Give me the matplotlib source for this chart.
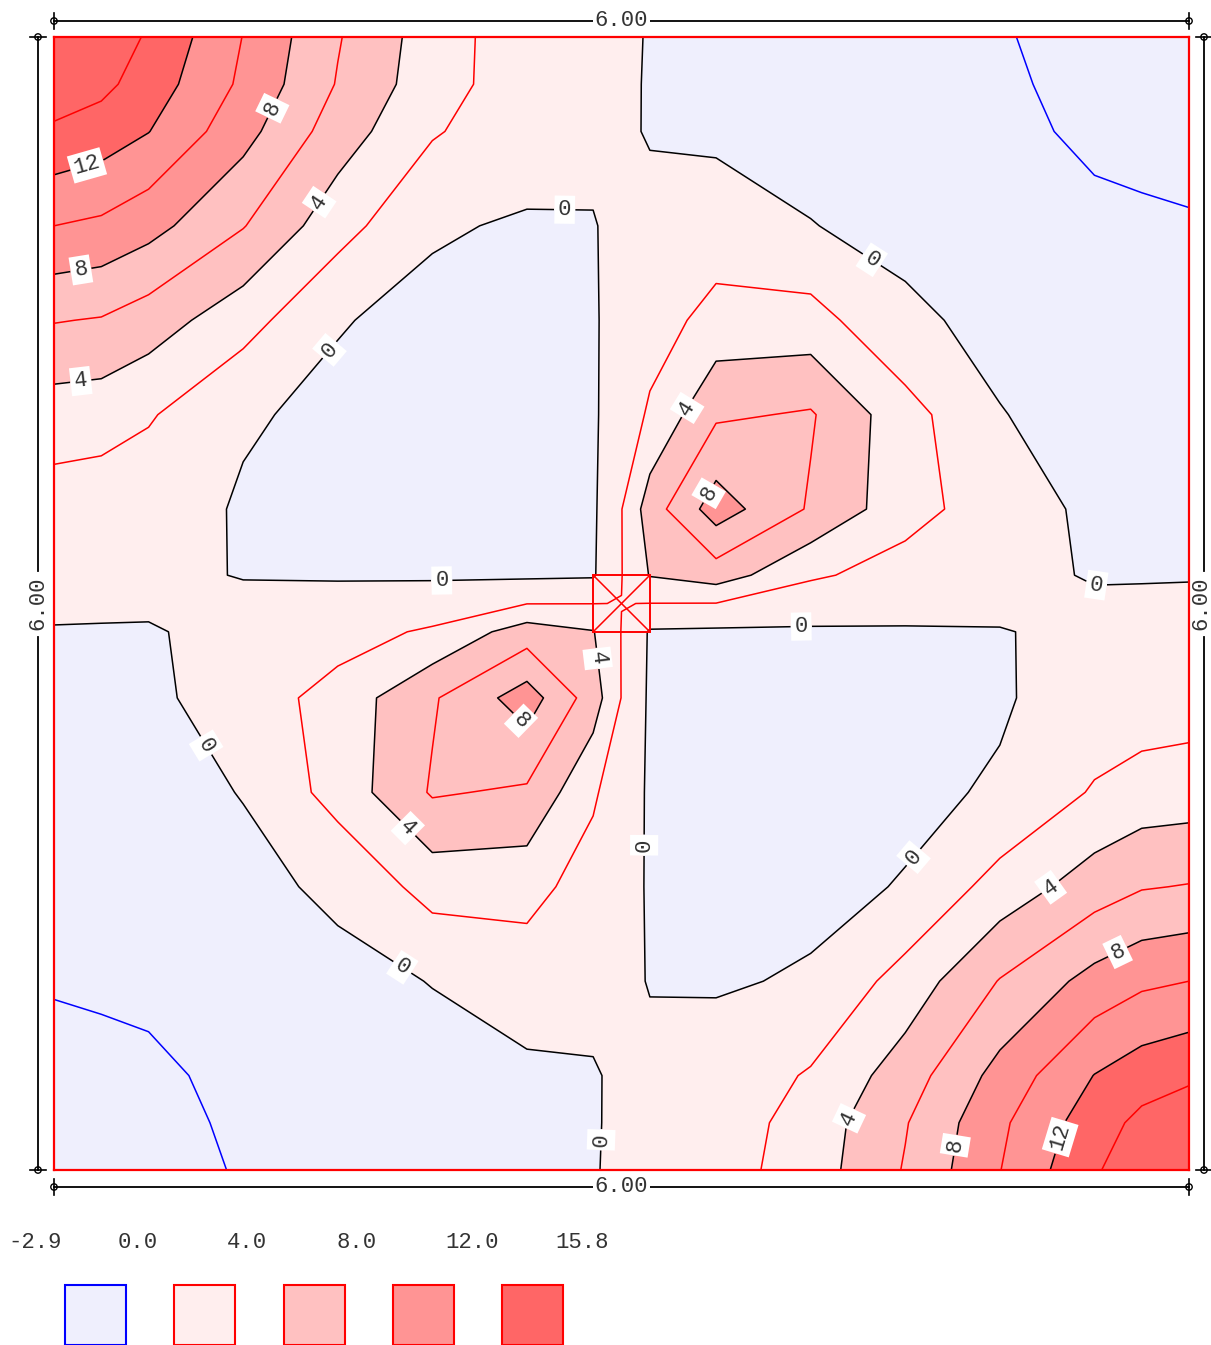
import numpy as np
import matplotlib
matplotlib.use("Agg")
import matplotlib.pyplot as plt
from matplotlib.patches import Rectangle, Circle

plt.rcParams["font.family"] = ["Liberation Mono", "DejaVu Sans Mono"]

# ---------------------------------------------------------------- slab data
SLAB_W = 6.0          # slab width  (m)
SLAB_H = 6.0          # slab height (m)
COL_SIZE = 0.30       # central column (m)

# mesh lines (m); rows are listed from the top edge down
x_nodes = [0.0, 0.25, 0.5, 1.0, 1.5, 2.0, 2.5, 2.85, 3.0, 3.15, 3.5, 4.0, 4.5, 5.0, 5.5, 5.75, 6.0]
y_nodes = [6.0, 5.75, 5.5, 5.0, 4.5, 4.0, 3.5, 3.15, 3.0, 2.85, 2.5, 2.0, 1.5, 1.0, 0.5, 0.25, 0.0]

# bending moment at the mesh nodes, one list per mesh row (top -> bottom)
m_r00 = [15.8, 15.1, 13.8, 9.95, 6.15, 3.0, 0.8, 0.5, 0.25, -0.08, -0.42, -0.92, -1.42, -1.9, -2.47, -2.7, -2.9]
m_r01 = [15.1, 14.5, 13.1, 9.62, 5.87, 2.85, 0.9, 0.45, 0.23, -0.1, -0.42, -0.8, -1.28, -1.8, -2.37, -2.55, -2.7]
m_r02 = [13.7, 13.1, 12.05, 8.7, 5.0, 2.2, 0.7, 0.4, 0.22, -0.1, -0.35, -0.6, -1.15, -1.65, -2.26, -2.37, -2.5]
m_r03 = [10.0, 9.62, 8.7, 6.1, 2.8, 0.15, -0.15, -0.08, 0.4, 0.4, 0.9, 0.05, -0.5, -1.05, -1.7, -1.8, -1.88]
m_r04 = [6.1, 5.87, 5.0, 2.8, 0.08, -0.36, -0.3, -0.12, 0.45, 1.1, 2.7, 2.75, 0.35, -0.5, -1.1, -1.28, -1.45]
m_r05 = [3.0, 2.85, 2.2, 0.15, -0.3, -0.35, -0.35, -0.18, 0.75, 2.3, 5.7, 6.2, 2.75, 0.07, -0.7, -0.8, -0.95]
m_r06 = [1.1, 0.9, 0.7, -0.15, -0.35, -0.35, -0.35, -0.3, 1.95, 5.0, 9.0, 5.77, 2.77, 0.92, -0.4, -0.42, -0.5]
m_r07 = [0.5, 0.45, 0.4, -0.08, -0.12, -0.18, -0.3, -0.2, 1.95, 4.1, 5.0, 2.3, 1.17, 0.45, -0.12, -0.1, -0.08]
m_r08 = [0.25, 0.23, 0.22, 0.4, 0.45, 0.75, 1.96, 1.98, 2.02, 1.98, 1.96, 0.75, 0.45, 0.4, 0.22, 0.23, 0.25]
m_r09 = [-0.08, -0.1, -0.12, 0.45, 1.17, 2.3, 5.0, 4.1, 1.95, -0.2, -0.3, -0.18, -0.12, -0.08, 0.4, 0.45, 0.5]
m_r10 = [-0.5, -0.42, -0.4, 0.92, 2.77, 5.77, 9.0, 5.0, 1.95, -0.3, -0.35, -0.35, -0.35, -0.15, 0.7, 0.9, 1.1]
m_r11 = [-0.95, -0.8, -0.7, 0.07, 2.75, 6.2, 5.7, 2.3, 0.75, -0.18, -0.35, -0.35, -0.3, 0.15, 2.2, 2.85, 3.0]
m_r12 = [-1.45, -1.28, -1.1, -0.5, 0.35, 2.75, 2.7, 1.1, 0.45, -0.12, -0.3, -0.36, 0.08, 2.8, 5.0, 5.87, 6.1]
m_r13 = [-1.88, -1.8, -1.7, -1.05, -0.5, 0.05, 0.9, 0.4, 0.4, -0.08, -0.15, 0.15, 2.8, 6.1, 8.7, 9.62, 10.0]
m_r14 = [-2.5, -2.37, -2.26, -1.65, -1.15, -0.6, -0.35, -0.1, 0.22, 0.4, 0.7, 2.2, 5.0, 8.7, 12.05, 13.1, 13.7]
m_r15 = [-2.7, -2.55, -2.37, -1.8, -1.28, -0.8, -0.42, -0.1, 0.23, 0.45, 0.9, 2.85, 5.87, 9.62, 13.1, 14.5, 15.1]
m_r16 = [-2.9, -2.7, -2.47, -1.9, -1.42, -0.92, -0.42, -0.08, 0.25, 0.5, 1.1, 3.0, 6.15, 9.95, 13.8, 15.1, 15.8]

band_edges = [0.0, 4.0, 8.0, 12.0]            # filled band limits / legend ticks
black_levels = [0.0, 4.0, 8.0, 12.0]          # labelled isolines
red_levels = [2.0, 6.0, 10.0, 14.0]
blue_levels = [-2.0]

band_colors = ["#efeffd", "#ffeeee", "#ffc1c1", "#ff9494", "#ff6666"]

# label anchor points (m) for the labelled isolines
label_points = [
    (2.70, 5.10), (1.16, 5.62), (0.18, 5.30), (1.41, 5.12), (0.14, 4.78),
    (0.14, 4.19), (1.46, 4.34), (4.31, 4.80), (3.34, 4.04), (3.45, 3.59),
    (2.05, 3.10), (5.51, 3.10), (3.95, 2.89), (2.88, 2.71), (0.84, 2.27),
    (2.46, 2.37), (1.86, 1.80), (3.10, 1.72), (4.54, 1.66), (1.82, 1.04),
    (5.26, 1.51), (5.62, 1.16), (4.21, 0.27), (4.77, 0.13), (5.30, 0.18),
    (2.89, 0.16),
]

# ---------------------------------------------------------------- figure
W, H = 1211, 1345
fig = plt.figure(figsize=(W / 100, H / 100), dpi=100)
fig.patch.set_facecolor("white")

PX_L, PX_R, PX_T, PX_B = 54, 1189, 37, 1170
ax = fig.add_axes([PX_L / W, 1 - PX_B / H, (PX_R - PX_L) / W, (PX_B - PX_T) / H])

X = np.array(x_nodes)
Y = np.array(y_nodes)
Z = np.array([m_r00, m_r01, m_r02, m_r03, m_r04, m_r05, m_r06, m_r07, m_r08,
              m_r09, m_r10, m_r11, m_r12, m_r13, m_r14, m_r15, m_r16])
zmin, zmax = float(Z.min()), float(Z.max())

fill_levels = [zmin] + band_edges + [zmax]
ax.contourf(X, Y, Z, levels=fill_levels, colors=band_colors, antialiased=True)

ax.contour(X, Y, Z, levels=red_levels, colors="red", linewidths=1.1, linestyles="solid")
ax.contour(X, Y, Z, levels=blue_levels, colors="blue", linewidths=1.1, linestyles="solid")
cs_k = ax.contour(X, Y, Z, levels=black_levels, colors="black", linewidths=1.1,
                  linestyles="solid")

labels = ax.clabel(cs_k, manual=label_points, inline=True, inline_spacing=4,
                   fmt="%d", fontsize=16, colors="#333333")
for t in labels:
    t.set_bbox(dict(facecolor="white", edgecolor="none", pad=2.5))
    t.set_zorder(5)

# column outline with its diagonals
c0x, c0y = SLAB_W / 2 - COL_SIZE / 2, SLAB_H / 2 - COL_SIZE / 2
ax.add_patch(Rectangle((c0x, c0y), COL_SIZE, COL_SIZE, fill=False,
                       edgecolor="red", linewidth=1.4, zorder=4))
ax.plot([c0x, c0x + COL_SIZE], [c0y, c0y + COL_SIZE], color="red", lw=1.1, zorder=4)
ax.plot([c0x, c0x + COL_SIZE], [c0y + COL_SIZE, c0y], color="red", lw=1.1, zorder=4)

ax.set_xlim(0, SLAB_W)
ax.set_ylim(0, SLAB_H)
ax.set_xticks([])
ax.set_yticks([])
for sp in ax.spines.values():
    sp.set_color("red")
    sp.set_linewidth(1.6)

# ---------------------------------------------------------------- overlay (pixels)
ov = fig.add_axes([0, 0, 1, 1])
ov.set_xlim(0, W)
ov.set_ylim(H, 0)
ov.axis("off")

TXT = "#333333"
FS = 16


def end_mark(x, y, vertical_tick):
    if vertical_tick:
        ov.plot([x, x], [y - 8, y + 8], color="black", lw=1.2)
    else:
        ov.plot([x - 8, x + 8], [y, y], color="black", lw=1.2)
    ov.add_patch(Circle((x, y), 3.2, fill=False, edgecolor="black", lw=1.0))


def hdim(y, x0, x1, text):
    ov.plot([x0, x1], [y, y], color="black", lw=1.3)
    end_mark(x0, y, True)
    end_mark(x1, y, True)
    ov.text((x0 + x1) / 2, y, text, ha="center", va="center", fontsize=FS,
            color=TXT, bbox=dict(facecolor="white", edgecolor="none", pad=1.0))


def vdim(x, y0, y1, text, text_x):
    ym = (y0 + y1) / 2
    gap = 33
    ov.plot([x, x], [y0, ym - gap], color="black", lw=1.3)
    ov.plot([x, x], [ym + gap, y1], color="black", lw=1.3)
    end_mark(x, y0, False)
    end_mark(x, y1, False)
    ov.text(text_x, ym, text, ha="center", va="center", fontsize=FS,
            color=TXT, rotation=90, rotation_mode="anchor")


hdim(21, PX_L, PX_R, f"{SLAB_W:.2f}")
hdim(1187, PX_L, PX_R, f"{SLAB_W:.2f}")
vdim(38, PX_T, PX_B, f"{SLAB_H:.2f}", 38)
vdim(1204, PX_T, PX_B, f"{SLAB_H:.2f}", 1201)

# legend: band limits above coloured swatches
legend_values = [zmin] + band_edges + [zmax]
legend_text_x = [35.5, 137.5, 247, 356.5, 472.5, 582]
for xv, val in zip(legend_text_x, legend_values):
    ov.text(xv, 1243, f"{val:.1f}", ha="center", va="center", fontsize=FS, color=TXT)

swatch_x = [64.5, 174, 283.5, 392.5, 502]
swatch_edges = ["blue", "red", "red", "red", "red"]
for xs, fc, ec in zip(swatch_x, band_colors, swatch_edges):
    ov.add_patch(Rectangle((xs, 1284.5), 61, 60, facecolor=fc, edgecolor=ec, lw=1.5))

fig.savefig("out.png", dpi=100, facecolor="white")
